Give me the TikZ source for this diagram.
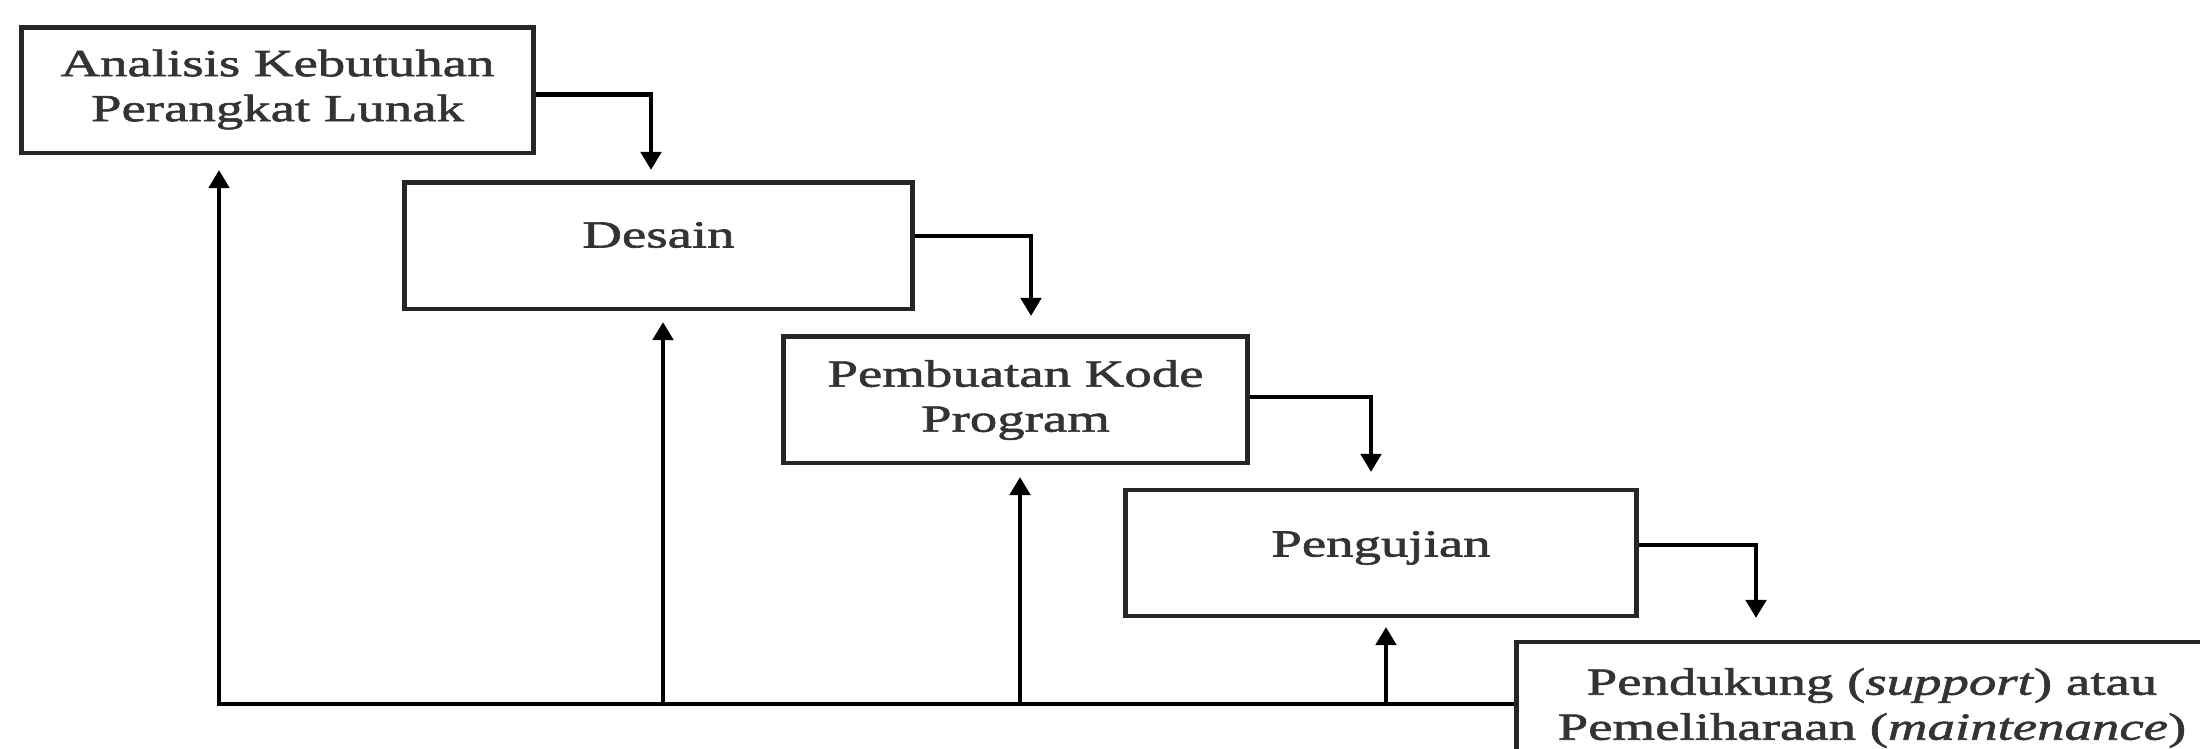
\documentclass[tikz,border=0pt]{standalone}
\usepackage{fontspec}
\setmainfont{Liberation Serif}[FakeStretch=1.43,FakeBold=1.6]
\usetikzlibrary{arrows.meta}
\tikzset{
  stage/.style={draw=black!85, line width=1.4pt, inner sep=0pt, rectangle},
  txt/.style={text=black!80, font=\fontsize{10.9}{12.8}\selectfont, align=center, inner sep=0pt},
  flow/.style={draw=black, line width=1.4pt, -{Triangle[length=0.18cm,width=0.2cm]}},
  link/.style={draw=black, line width=1.4pt},
}
\begin{document}
\begin{tikzpicture}[x=0.01cm,y=-0.01cm]
\useasboundingbox (0,0) rectangle (2200,749);
\clip (0,0) rectangle (2200,749);

\node[stage, minimum width=5.11cm, minimum height=1.25cm,
  label={[txt,yshift=0.01cm]center:{Analisis Kebutuhan\\Perangkat Lunak}}] (b1) at (277.5,90.5) {};
\node[stage, minimum width=5.07cm, minimum height=1.26cm,
  label={[txt,yshift=0.11cm]center:{Desain}}] (b2) at (658.5,246) {};
\node[stage, minimum width=4.63cm, minimum height=1.26cm,
  label={[txt,yshift=0.0cm]center:{Pembuatan Kode\\Program}}] (b3) at (1015.5,400) {};
\node[stage, minimum width=5.10cm, minimum height=1.26cm,
  label={[txt,yshift=0.05cm]center:{Pengujian}}] (b4) at (1381,553) {};
\node[stage, minimum width=7.20cm, minimum height=1.24cm,
  label={[txt,yshift=-0.04cm,xshift=-0.05cm]center:{Pendukung (\textit{support}) atau\\Pemeliharaan (\textit{maintenance})}}] (b5) at (1877,704) {};

% forward arrows
\coordinate (t1) at (651,170);
\coordinate (t2) at (1031,316);
\coordinate (t3) at (1371,472);
\coordinate (t4) at (1756,618);
\draw[flow] ([yshift=-0.04cm]b1.east) -| (t1);
\draw[flow] ([yshift=0.10cm]b2.east) -| (t2);
\draw[flow] ([yshift=0.03cm]b3.east) -| (t3);
\draw[flow] ([yshift=0.08cm]b4.east) -| (t4);

% feedback
\coordinate (f1) at (219,704);
\coordinate (f2) at (663,704);
\coordinate (f3) at (1020,704);
\coordinate (f4) at (1386,704);
\coordinate (u1) at (219,170);
\coordinate (u2) at (663,322);
\coordinate (u3) at (1020,477);
\coordinate (u4) at (1386,627);
\draw[flow] (b5.west) -- (f1) -- (u1);
\draw[flow] (f2) -- (u2);
\draw[flow] (f3) -- (u3);
\draw[flow] (f4) -- (u4);
\end{tikzpicture}
\end{document}
